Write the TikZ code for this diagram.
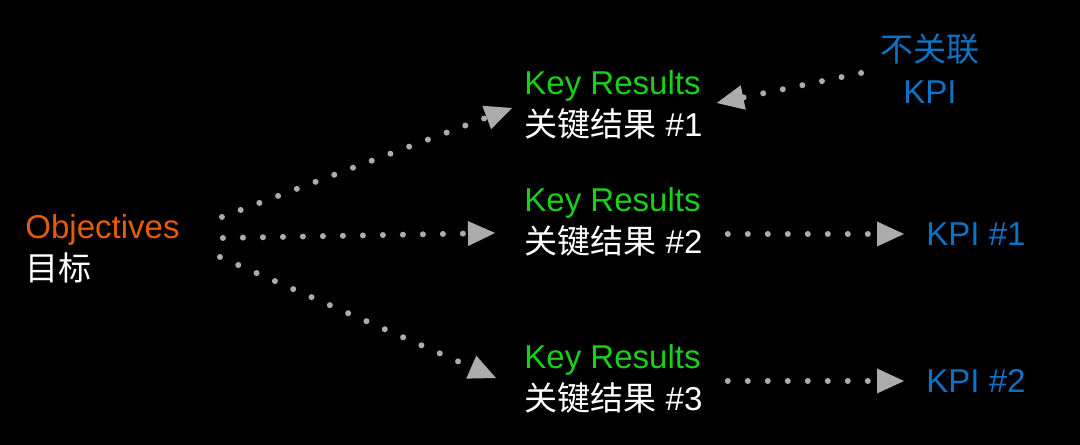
\documentclass[tikz,border=0pt]{standalone}
\usepackage{fontspec}
\setmainfont{Liberation Sans}
\newfontfamily\cjk{Noto Sans CJK SC}
\usetikzlibrary{positioning, arrows.meta}
\definecolor{objorange}{RGB}{226,92,10}
\definecolor{krgreen}{RGB}{24,208,24}
\definecolor{kpiblue}{RGB}{12,114,196}
\definecolor{dotgray}{RGB}{172,172,172}
\tikzset{
  txt/.style     = {inner sep=0, align=left, font=\fontsize{18.8}{24}\selectfont, text=white},
  kpitxt/.style  = {inner sep=0, align=center, font=\fontsize{18.8}{24}\selectfont, text=kpiblue},
  dotarrow/.style = {draw=dotgray, line width=0.12cm, line cap=round, dash pattern=on 0pt off 0.4cm,
                     -{Triangle[length=0.54cm, width=0.5cm, line width=0pt, round=false, fill=dotgray]}}
}

\begin{document}
\begin{tikzpicture}

  \fill[black] (0,0) rectangle (21.6,8.9);
  \useasboundingbox (0,0) rectangle (21.6,8.9);

  % ---------- obiettivi ----------
  \node[txt, anchor=west] (obj) at (0.5,3.92) {\textcolor{objorange}{Objectives}\\{\cjk 目标}};

  % ---------- key results ----------
  \node[txt, anchor=west] (kr1) at (10.48,6.80) {\textcolor{krgreen}{Key Results}\\{\cjk 关键结果} \#1};
  \node[txt, anchor=west] (kr2) at (10.48,4.46) {\textcolor{krgreen}{Key Results}\\{\cjk 关键结果} \#2};
  \node[txt, anchor=west] (kr3) at (10.48,1.32) {\textcolor{krgreen}{Key Results}\\{\cjk 关键结果} \#3};

  % ---------- KPI ----------
  \node[kpitxt] (kpiU) at (18.6,7.52) {{\cjk 不关联}\\KPI};
  \node[kpitxt, anchor=west] (kpi1) at (18.52,4.22) {KPI \#1};
  \node[kpitxt, anchor=west] (kpi2) at (18.52,1.28) {KPI \#2};

  % ---------- frecce ----------
  \draw[dotarrow] ([shift={(0.84,0.64)}]obj.east) -- ([shift={(-0.24,-0.06)}]kr1.west);
  \draw[dotarrow] ([shift={(0.86,0.22)}]obj.east) -- ([shift={(-0.58,-0.22)}]kr2.west);
  \draw[dotarrow] ([shift={(0.80,-0.16)}]obj.east) -- ([shift={(-0.56,0.02)}]kr3.west);

  \draw[dotarrow] ([xshift=0.5cm]kr2.east |- kpi1.west) -- ([xshift=-0.44cm]kpi1.west);
  \draw[dotarrow] ([xshift=0.5cm]kr3.east |- kpi2.west) -- ([xshift=-0.44cm]kpi2.west);

  \draw[dotarrow] ([shift={(-0.38,-0.08)}]kpiU.west) -- ([shift={(0.28,0.04)}]kr1.east);

\end{tikzpicture}
\end{document}
